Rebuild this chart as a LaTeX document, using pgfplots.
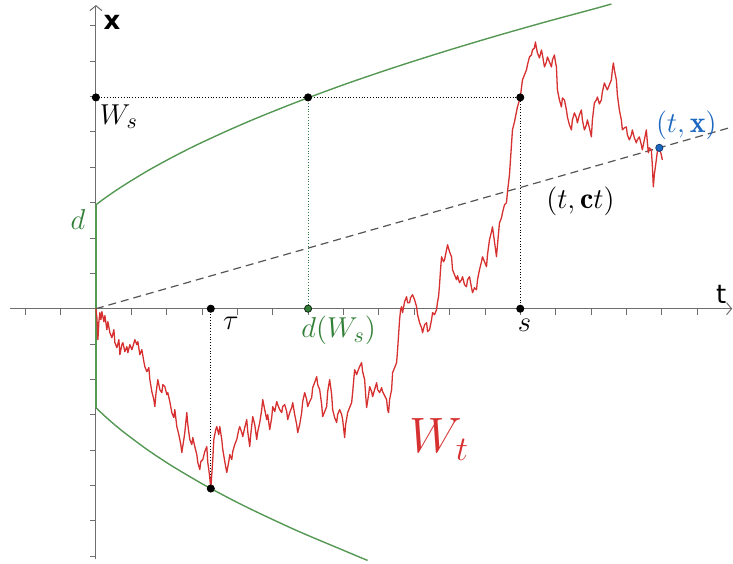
\documentclass[border=0pt]{standalone}
\usepackage{pgfplots}
\pgfplotsset{compat=1.18}
\usepackage{fontspec}
\usetikzlibrary{arrows.meta}
\newfontfamily\axfont{DejaVu Sans}
\definecolor{pathred}{RGB}{214,48,48}
\definecolor{bndgreen}{RGB}{84,152,84}
\definecolor{dkgreen}{RGB}{50,128,55}
\definecolor{ptblue}{RGB}{28,104,192}
\definecolor{axgray}{RGB}{110,110,110}
\begin{document}
\begin{tikzpicture}
\begin{axis}[
    axis lines=middle,
    scale only axis,
    width=361.5pt, height=277.5pt,
    xmin=-86, xmax=637, ymin=-251, ymax=304,
    clip=false,
    axis line style={draw=axgray, line width=0.5pt, -{Straight Barb[length=2.5pt,width=6pt]}},
    xtick={-70.8,-35.4,...,601.8},
    ytick={-247.8,-212.4,...,283.2},
    xticklabels={}, yticklabels={},
    tick style={draw=axgray, line width=0.4pt},
    major tick length=3pt,
    tick align=outside,
]
% page frame
\path (axis cs:-96,-255) rectangle (axis cs:637,309);

% boundary curves
\addplot[bndgreen, line width=0.7pt, smooth] coordinates {
(0,104) (10,111.4) (25,121.6) (50,137.0) (75,150.8) (100,163.5) (130,177.4)
(160,190.4) (200,206.4) (250,224.9) (300,241.9) (350,257.8) (400,272.8)
(450,287.0) (500,300.5) (516,305)};
\addplot[bndgreen, line width=0.7pt, smooth] coordinates {
(0,-99) (10,-108.5) (25,-121.3) (50,-140.1) (75,-156.7) (100,-171.6) (115,-180)
(150,-198.2) (200,-221.6) (250,-242.8) (272,-252)};
\addplot[bndgreen, line width=0.8pt] coordinates {(0,104) (0,-99)};

% dashed line t -> ct
\addplot[draw={rgb,255:red,85;green,85;blue,85}, line width=0.6pt, dash pattern=on 4pt off 2.5pt]
  coordinates {(0,0) (637,181.9)};

% dotted guides
\addplot[black, line width=0.55pt, dash pattern=on 0.5pt off 0.9pt]
  coordinates {(0,211.5) (424.8,211.5) (424.8,0)};
\addplot[dkgreen, line width=0.55pt, dash pattern=on 0.5pt off 0.9pt]
  coordinates {(212.4,211.5) (212.4,0)};
\addplot[black, line width=0.55pt, dash pattern=on 0.5pt off 0.9pt]
  coordinates {(115,0) (115,-180)};

% path W_t
\addplot[pathred, line width=0.65pt, line join=round] table {
x y
0 0
1 -9
2 -31
3 -13
4 -4
5 -11
6 -3
8 -13
9 -7
11 -21
12 -13
14 -24
16 -29
18 -21
19 -34
21 -39
23 -31
24 -46
26 -36
27 -34
29 -43
31 -38
32 -44
34 -36
36 -41
37 -38
39 -31
41 -36
42 -33
44 -46
46 -41
48 -53
49 -58
51 -63
53 -59
54 -71
56 -83
58 -91
59 -98
60 -86
62 -71
64 -81
66 -84
67 -76
69 -78
71 -86
72 -84
74 -93
76 -104
78 -109
79 -101
81 -118
83 -126
85 -136
86 -144
88 -131
89 -124
91 -104
92 -116
94 -131
96 -136
97 -129
99 -138
101 -146
102 -154
104 -161
105 -153
107 -151
109 -143
111 -138
112 -154
113 -161
114 -169
115 -180
116 -166
117 -151
118 -131
120 -121
121 -118
123 -126
124 -118
126 -131
127 -141
129 -153
131 -164
133 -153
134 -146
136 -151
137 -143
139 -136
141 -131
143 -121
144 -118
146 -124
147 -128
149 -119
151 -111
152 -123
154 -138
155 -126
157 -108
159 -116
161 -131
162 -123
164 -114
166 -101
167 -91
169 -101
171 -111
172 -106
174 -121
176 -109
177 -98
179 -103
181 -93
182 -96
184 -101
186 -104
187 -98
189 -96
191 -103
192 -111
194 -104
196 -99
197 -94
199 -106
201 -116
202 -124
204 -116
206 -104
207 -93
209 -84
211 -91
212 -98
214 -93
216 -89
217 -79
219 -74
221 -68
222 -76
224 -81
226 -96
227 -108
229 -103
231 -98
232 -83
234 -71
236 -86
237 -101
239 -109
241 -114
242 -106
244 -101
246 -106
247 -111
249 -129
250 -116
252 -104
254 -99
256 -94
257 -84
259 -61
261 -66
262 -63
264 -58
266 -54
267 -63
269 -71
270 -86
271 -99
273 -86
274 -78
276 -83
277 -88
279 -81
281 -74
282 -81
284 -84
286 -79
287 -83
289 -87
291 -91
292 -101
293 -104
294 -91
296 -81
297 -64
299 -59
301 -54
302 -41
303 -26
304 -11
305 -1
306 2
307 -4
309 7
311 12
312 6
314 6
315 11
317 14
319 9
321 2
322 -6
324 -14
326 -19
327 -24
329 -16
331 -14
332 -23
334 -21
336 -11
337 -4
339 -6
341 -1
342 7
343 12
344 24
345 39
346 52
348 47
349 49
351 59
352 64
354 57
356 52
357 39
359 34
361 29
362 33
364 26
366 29
367 32
369 24
371 22
372 29
374 32
376 21
377 16
379 21
381 19
382 29
384 39
386 47
387 52
389 47
391 42
392 54
394 69
396 77
397 82
399 67
401 52
402 64
404 86
406 91
407 96
409 104
411 106
412 117
414 134
415 149
416 164
417 179
419 187
421 197
422 202
423.5 207
424.8 211.5
426 221
427 229
429 234
431 239
432 244
434 252
436 254
437 259
439 261
440 267
441 261
442 256
444 251
446 259
447 254
449 242
451 247
452 252
454 247
456 242
457 249
459 254
460 247
461 242
462 219
464 209
466 202
467 211
469 209
471 199
472 192
474 184
476 179
477 189
479 196
481 191
482 186
484 194
486 199
487 189
489 179
491 184
492 189
494 181
496 172
497 189
499 206
501 209
502 212
504 205
506 209
507 217
509 226
511 221
512 219
514 224
516 229
517 239
518 246
519 239
521 229
522 214
524 199
526 189
527 179
529 181
531 182
532 174
534 169
536 174
537 179
539 171
541 166
542 169
544 172
546 164
547 159
549 169
551 179
552 167
553 156
554 161
556 159
557 144
558 122
559 134
561 149
562 157
564 161
566 154
567 149
};

% points
\addplot[only marks, mark=*, mark size=1.8pt, black] coordinates {
(0,211.5) (212.4,211.5) (424.8,211.5) (424.8,0) (115,0) (115,-180)};
\addplot[only marks, mark=*, mark size=1.8pt, draw=black!70!dkgreen, fill=dkgreen] coordinates {(212.4,0)};
\addplot[only marks, mark=*, mark size=1.8pt, draw=black!40!ptblue, fill=ptblue] coordinates {(564,161)};

% labels
\node at (axis cs:16,287) {\axfont\bfseries\fontsize{13}{15}\selectfont x};
\node at (axis cs:626,14) {\axfont\fontsize{13}{15}\selectfont t};
\node at (axis cs:23,192) {\fontsize{15}{18}\selectfont $W_s$};
\node[text=dkgreen] at (axis cs:-18,89) {\fontsize{15}{18}\selectfont $d$};
\node at (axis cs:135,-15) {\fontsize{15}{18}\selectfont $\tau$};
\node[text=dkgreen] at (axis cs:243,-22) {\fontsize{15}{18}\selectfont $d(W_s)$};
\node at (axis cs:429,-17) {\fontsize{15}{18}\selectfont $s$};
\node at (axis cs:485,107) {\fontsize{15}{18}\selectfont $(t,\mathbf{c}t)$};
\node[text=ptblue] at (axis cs:591,184) {\fontsize{15}{18}\selectfont $(t,\mathbf{x})$};
\node[text=pathred] at (axis cs:344,-131) {\fontsize{25}{30}\selectfont $W_t$};
\end{axis}
\end{tikzpicture}
\end{document}
